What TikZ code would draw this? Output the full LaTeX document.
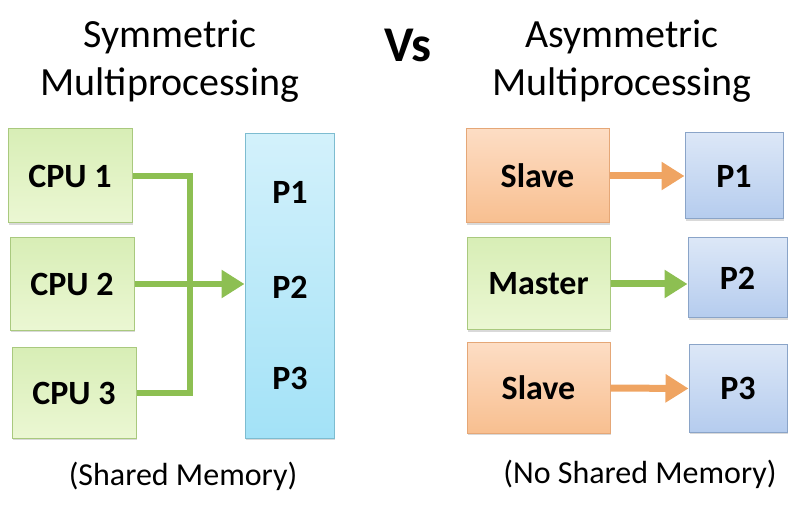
\documentclass[tikz,border=0pt]{standalone}
\usepackage{fontspec}
\setmainfont{Carlito}
\usetikzlibrary{arrows.meta,shadows}

\definecolor{cpugreen}{HTML}{A9C97E}
\definecolor{cputop}{HTML}{D8EEB6}
\definecolor{cpubottom}{HTML}{EBF7D3}
\definecolor{slaveorange}{HTML}{E5A777}
\definecolor{slavetop}{HTML}{FDDDC4}
\definecolor{slavebottom}{HTML}{F8BF90}
\definecolor{procblue}{HTML}{8AA4C8}
\definecolor{proctop}{HTML}{DCE7F7}
\definecolor{procbottom}{HTML}{B5CCEE}
\definecolor{memcyan}{HTML}{7DBCD0}
\definecolor{memtop}{HTML}{D3F1FB}
\definecolor{membottom}{HTML}{A3E2F7}
\definecolor{linkgreen}{HTML}{8DBF52}
\definecolor{linkorange}{HTML}{EFA462}

\begin{document}
\begin{tikzpicture}[x=1pt,y=-1pt,
    box/.style={draw,line width=1pt,minimum width=124pt,minimum height=94pt,
        font=\bfseries\fontsize{34}{40}\selectfont,
        drop shadow={shadow xshift=1pt,shadow yshift=-2pt,opacity=0.3}},
    cpubox/.style={box,draw=cpugreen,top color=cputop,bottom color=cpubottom},
    slavebox/.style={box,draw=slaveorange,minimum width=143pt,top color=slavetop,bottom color=slavebottom},
    masterbox/.style={cpubox,minimum width=143pt},
    procbox/.style={box,draw=procblue,minimum width=98pt,minimum height=86pt,top color=proctop,bottom color=procbottom},
    membox/.style={box,draw=memcyan,minimum width=89pt,minimum height=304pt,top color=memtop,bottom color=membottom},
    memlabel/.style={font=\bfseries\fontsize{34}{40}\selectfont},
    title/.style={align=center,font=\fontsize{40}{48}\selectfont},
    caption/.style={font=\fontsize{32}{38}\selectfont},
    greenlink/.style={draw=linkgreen,line width=6pt},
    orangelink/.style={draw=linkorange,line width=7pt},
    tip/.style={-{Triangle[width=27pt,length=23pt]}}]
    \useasboundingbox (0,0) rectangle (804,513);

    % headings
    \node[title] (symtitle) at (170,61) {Symmetric\\Multiprocessing};
    \node[font=\bfseries\fontsize{50}{56}\selectfont] (vs) at (408,45) {Vs};
    \node[title] (asymtitle) at (622,61) {Asymmetric\\Multiprocessing};

    % symmetric side
    \node[cpubox] (cpu1) at (70,176) {CPU 1};
    \node[cpubox,minimum height=93pt] (cpu2) at (72,284) {CPU 2};
    \node[cpubox,minimum height=90pt] (cpu3) at (74,393) {CPU 3};
    \node[membox] (mem) at (289.5,286) {};
    \node[memlabel] (mp1) at (290,192) {P1};
    \node[memlabel] (mp2) at (290,287) {P2};
    \node[memlabel] (mp3) at (290,378) {P3};
    \coordinate (bus) at (190,284);
    \draw[greenlink,line join=miter] (cpu1.east) -| (bus) |- (cpu3.east);
    \draw[greenlink,tip] (cpu2.east) -- (cpu2.east -| mem.west);
    \node[caption] (shared) at (183,476) {(Shared Memory)};

    % asymmetric side
    \node[slavebox] (slave1) at (537.5,176) {Slave};
    \node[masterbox,minimum height=92pt] (master) at (538.5,284) {Master};
    \node[slavebox,minimum height=90pt] (slave2) at (538.5,388) {Slave};
    \node[procbox] (p1) at (734,176) {P1};
    \node[procbox,minimum width=99pt,minimum height=80pt] (p2) at (737.5,278) {P2};
    \node[procbox,minimum height=87pt] (p3) at (738,388.5) {P3};
    \draw[orangelink,tip] (slave1.east) -- (p1.west);
    \draw[greenlink,line width=7pt,tip] (master.east) -- (master.east -| p2.west);
    \draw[orangelink,tip] (slave2.east) -- (p3.west);
    \node[caption] (noshared) at (640,474) {(No Shared Memory)};
\end{tikzpicture}
\end{document}
